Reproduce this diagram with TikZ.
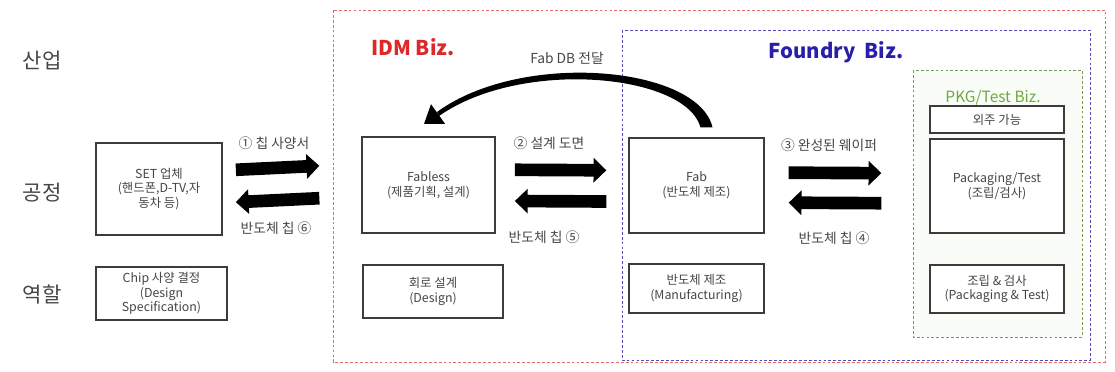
\documentclass[tikz,border=0pt]{standalone}
\usepackage{fontspec}
\setmainfont{Noto Sans CJK KR}
\usetikzlibrary{arrows.meta}
\definecolor{idmred}{RGB}{220, 40, 40}
\definecolor{foundryblue}{RGB}{40, 30, 170}
\definecolor{pkggreen}{RGB}{110, 170, 60}
\definecolor{boxline}{RGB}{60, 60, 60}
\definecolor{boxtext}{RGB}{70, 70, 70}

\tikzset{
  box/.style={draw=boxline, line width=0.9pt, fill=white, align=center,
    text=boxtext, font=\fontsize{8.8}{10.5}\selectfont, inner sep=1pt},
  rowlabel/.style={font=\fontsize{15}{17}\selectfont, text=boxtext},
  flowlabel/.style={font=\fontsize{9.8}{11}\selectfont, text=boxtext},
  fatarrow/.style={line width=9pt, -{Triangle[length=0.32cm, width=0.6cm]}},
  region/.style={line width=0.6pt, dash pattern=on 2pt off 1.5pt}
}

\begin{document}
\begin{tikzpicture}[x=0.025cm, y=-0.025cm]
    \useasboundingbox (0,0) rectangle (1115,372);

    % Business regions
    \draw[region, idmred!70] (333,10) rectangle (1105,362);
    \draw[region, foundryblue!80] (622,30) rectangle (1090,360);
    \draw[region, pkggreen!60!gray, fill=pkggreen!4] (913,70) rectangle (1082,337);
    \node[text=idmred, font=\fontsize{14.5}{16}\selectfont\bfseries] (idm) at (413,47) {IDM Biz.};
    \node[text=foundryblue, font=\fontsize{14.5}{16}\selectfont\bfseries] (foundry) at (836,52) {Foundry\ \ Biz.};
    \node[text=pkggreen, font=\fontsize{11}{12}\selectfont] (pkgbiz) at (993,98) {PKG/Test Biz.};

    % Row labels
    \node[rowlabel] (industry) at (42,60) {산업};
    \node[rowlabel] (process) at (42,193) {공정};
    \node[rowlabel] (role) at (42,295) {역할};

    % Process boxes
    \node[box, minimum width=3.15cm, minimum height=2.3cm] (set) at (159,189)
        {SET 업체\\(핸드폰,D-TV,자\\동차 등)};
    \node[box, minimum width=3.325cm, minimum height=2.4cm] (fabless) at (428.5,185)
        {Fabless\\(제품기획, 설계)};
    \node[box, minimum width=3.375cm, minimum height=2.375cm] (fab) at (696.5,185.5)
        {Fab\\(반도체 제조)};
    \node[box, minimum width=3.35cm, minimum height=0.675cm] (outsrc) at (997,119.5)
        {외주 가능};
    \node[box, minimum width=3.35cm, minimum height=2.35cm] (pkg) at (997,186)
        {Packaging/Test\\(조립/검사)};

    % Role boxes
    \node[box, minimum width=3.275cm, minimum height=1.325cm] (spec) at (161.5,293.5)
        {Chip 사양 결정\\(Design\\Specification)};
    \node[box, minimum width=3.5cm, minimum height=1.325cm] (design) at (433,291.5)
        {회로 설계\\(Design)};
    \node[box, minimum width=3.375cm, minimum height=1.225cm] (mfg) at (696.5,288.5)
        {반도체 제조\\(Manufacturing)};
    \node[box, minimum width=3.35cm, minimum height=1.2cm] (pkgrole) at (997,289)
        {조립 \& 검사\\(Packaging \& Test)};

    % SET <-> Fabless
    \draw[fatarrow] ([xshift=0.33cm, yshift=0.48cm]set.east) -- ([xshift=-1.05cm, yshift=0.48cm]fabless.west);
    \draw[fatarrow] ([xshift=-1.05cm, yshift=-0.33cm]fabless.west) -- ([xshift=0.33cm, yshift=-0.33cm]set.east);
    \node[flowlabel] (spec1) at (274,143) {① 칩 사양서};
    \node[flowlabel] (chip6) at (276,228) {반도체 칩 ⑥};

    % Fabless <-> Fab
    \draw[fatarrow] ([xshift=0.48cm, yshift=0.38cm]fabless.east) -- ([xshift=-0.55cm, yshift=0.38cm]fab.west);
    \draw[fatarrow] ([xshift=-0.55cm, yshift=-0.4cm]fab.west) -- ([xshift=0.48cm, yshift=-0.4cm]fabless.east);
    \node[flowlabel] (draw2) at (549,143) {② 설계 도면};
    \node[flowlabel] (chip5) at (544,237) {반도체 칩 ⑤};

    % Fab <-> PKG
    \draw[fatarrow] ([xshift=0.6cm, yshift=0.32cm]fab.east) -- ([xshift=-1.2cm, yshift=0.32cm]pkg.west);
    \draw[fatarrow] ([xshift=-1.2cm, yshift=-0.43cm]pkg.west) -- ([xshift=0.6cm, yshift=-0.43cm]fab.east);
    \node[flowlabel] (wafer3) at (829,145) {③ 완성된 웨이퍼};
    \node[flowlabel] (chip4) at (834,238) {반도체 칩 ④};

    % Fab DB back to Fabless (tapered)
    \coordinate (dbouter) at ([xshift=0.4cm, yshift=0.25cm]fab.north);
    \coordinate (dbinner) at ([xshift=0.1cm, yshift=0.25cm]fab.north);
    \coordinate (dbbase) at (438,114);
    \fill (dbouter) .. controls (698,66) and (522,50) .. (437,112)
        -- (439,116) .. controls (522,58) and (686,74) .. (dbinner) -- cycle;
    \fill (445,123.8) -- (431,104.2) -- (424,124) -- cycle;
    \node[flowlabel] (fabdb) at (567,58) {Fab DB 전달};
\end{tikzpicture}
\end{document}
